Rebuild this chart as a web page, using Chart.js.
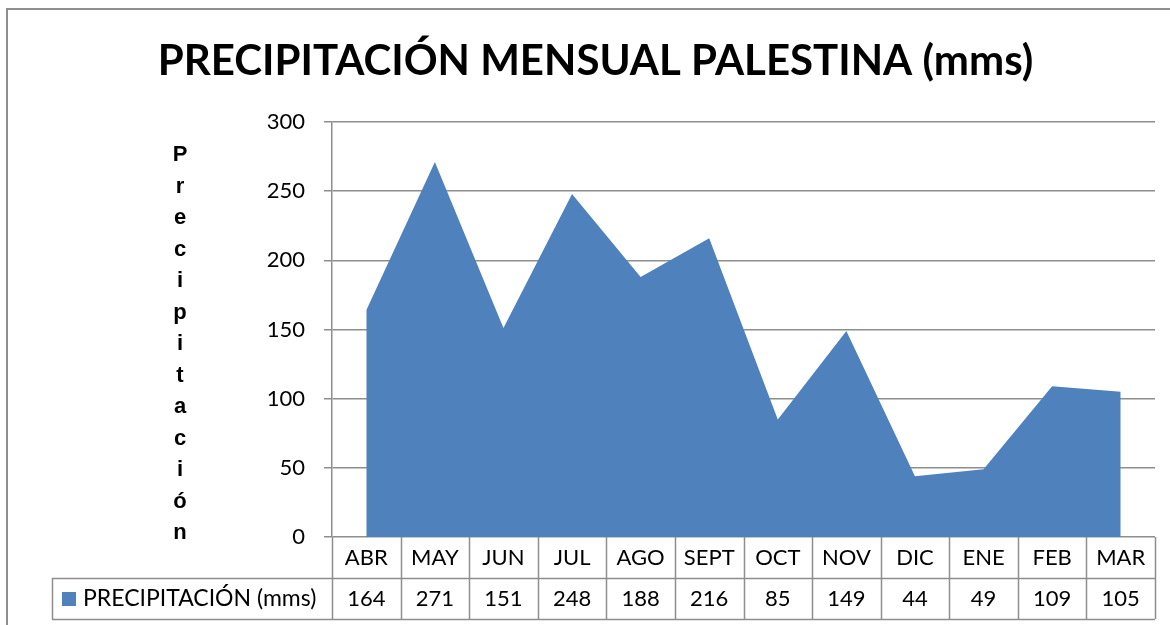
<!DOCTYPE html>
<html>
<head>
<meta charset="utf-8">
<script src="https://cdn.jsdelivr.net/npm/chart.js@4.4.1/dist/chart.umd.min.js"></script>
<style>
  html, body { margin: 0; padding: 0; background: #ffffff; }
  #wrap { width: 1170px; height: 625px; position: relative; }
</style>
</head>
<body>
<div id="wrap"><canvas id="c" width="1170" height="625"></canvas></div>
<script>
const categories = ['ABR', 'MAY', 'JUN', 'JUL', 'AGO', 'SEPT', 'OCT', 'NOV', 'DIC', 'ENE', 'FEB', 'MAR'];
const precipitation = [164, 271, 151, 248, 188, 216, 85, 149, 44, 49, 109, 105];
const seriesName = 'PRECIPITACIÓN (mms)';
const chartTitle = 'PRECIPITACIÓN MENSUAL PALESTINA (mms)';
const yAxisTitle = 'Precipitación';
const yTicks = [0, 50, 100, 150, 200, 250, 300];

const BLUE = '#4F81BD';
const GRID = '#8e8e8e';
const FONT = 'Lato, "Open Sans", sans-serif';

const tablePlugin = {
  id: 'tablePlugin',
  afterDraw(chart) {
    const ctx = chart.ctx;
    const x = chart.scales.x;
    const area = chart.chartArea;
    const n = categories.length;
    const half = (area.right - area.left) / n / 2;
    const top = area.bottom;
    const mid = top + 41;
    const bot = top + 82;
    const legendLeft = 52;

    ctx.save();
    // outer frame
    ctx.strokeStyle = GRID;
    ctx.lineWidth = 2;
    ctx.strokeRect(7, 9, 1300, 800);

    // table lines
    ctx.lineWidth = 1.5;
    ctx.strokeStyle = GRID;
    ctx.beginPath();
    for (let i = 0; i <= n; i++) {
      const px = i < n ? x.getPixelForValue(i) - half : x.getPixelForValue(n - 1) + half;
      ctx.moveTo(Math.round(px) + 0.5, top);
      ctx.lineTo(Math.round(px) + 0.5, bot);
    }
    ctx.moveTo(legendLeft, Math.round(mid) + 0.5);
    ctx.lineTo(area.right, Math.round(mid) + 0.5);
    ctx.moveTo(legendLeft, Math.round(bot) + 0.5);
    ctx.lineTo(area.right, Math.round(bot) + 0.5);
    ctx.moveTo(legendLeft + 0.5, Math.round(mid));
    ctx.lineTo(legendLeft + 0.5, Math.round(bot));
    ctx.stroke();

    // table text
    ctx.fillStyle = '#000';
    ctx.font = '22px ' + FONT;
    ctx.textAlign = 'center';
    ctx.textBaseline = 'middle';
    for (let i = 0; i < n; i++) {
      const px = x.getPixelForValue(i);
      ctx.fillText(categories[i], px, top + 21);
      ctx.fillText(String(precipitation[i]), px, mid + 21);
    }
    // legend key
    ctx.fillStyle = BLUE;
    ctx.fillRect(62, mid + 14, 14, 14);
    ctx.fillStyle = '#000';
    ctx.textAlign = 'left';
    ctx.font = '23px ' + FONT;
    ctx.fillText(seriesName, 83, mid + 21);

    // vertical stacked y-axis title
    ctx.font = 'bold 22px "Liberation Sans", Arial, sans-serif';
    ctx.textAlign = 'center';
    ctx.textBaseline = 'alphabetic';
    const letters = Array.from(yAxisTitle);
    for (let i = 0; i < letters.length; i++) {
      ctx.fillText(letters[i], 180, 161 + i * 31.5);
    }
    ctx.restore();
  }
};

new Chart(document.getElementById('c'), {
  type: 'line',
  data: {
    labels: categories,
    datasets: [{
      label: seriesName,
      data: precipitation,
      fill: 'origin',
      backgroundColor: BLUE,
      borderColor: BLUE,
      borderWidth: 0,
      pointRadius: 0,
      tension: 0
    }]
  },
  options: {
    responsive: false,
    animation: false,
    events: [],
    layout: { padding: { left: 36, right: 15, top: 0, bottom: 6 } },
    plugins: {
      legend: { display: false },
      tooltip: { enabled: false },
      title: {
        display: true,
        text: chartTitle,
        color: '#000',
        font: { family: FONT, size: 42, weight: 'bold', lineHeight: 1 },
        padding: { top: 40, bottom: 40 }
      }
    },
    scales: {
      x: {
        type: 'category',
        offset: true,
        grid: { display: false, drawOnChartArea: false },
        border: { display: false },
        ticks: { display: false },
        afterFit(scale) { scale.height = 82; }
      },
      y: {
        min: 0,
        max: 300,
        afterBuildTicks(scale) { scale.ticks = yTicks.map(v => ({ value: v })); },
        grid: { color: GRID, lineWidth: 1.5, tickLength: 8, drawTicks: true },
        border: { display: true, color: GRID, width: 1.5 },
        ticks: { color: '#000', font: { family: FONT, size: 22 }, padding: 19 },
        afterFit(scale) { scale.width = 296; }
      }
    }
  },
  plugins: [tablePlugin]
});
</script>
</body>
</html>
